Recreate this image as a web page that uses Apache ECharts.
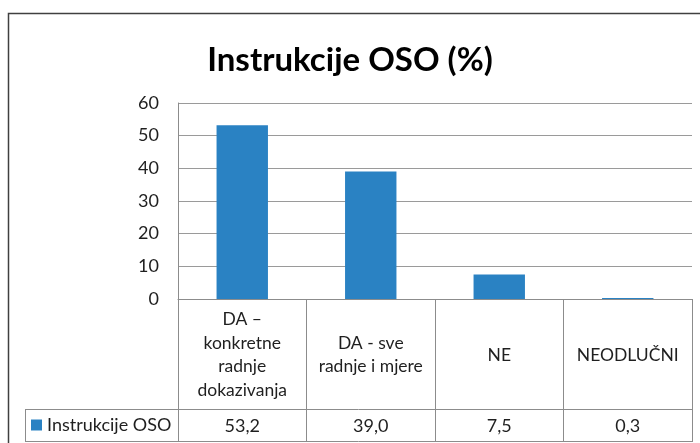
<!DOCTYPE html>
<html>
<head>
<meta charset="utf-8">
<script src="https://cdn.jsdelivr.net/npm/echarts@6/dist/echarts.min.js"></script>
<style>
  html, body { margin: 0; padding: 0; background: #fff; }
  #main { width: 700px; height: 443px; }
</style>
</head>
<body>
<div id="main"></div>
<script>
// chart data
var seriesName = 'Instrukcije OSO';
var categories = ['DA \u2013\nkonkretne\nradnje\ndokazivanja', 'DA - sve\nradnje i mjere', 'NE', 'NEODLU\u010cNI'];
var values = [53.2, 39.0, 7.5, 0.3];
var yTicks = [0, 10, 20, 30, 40, 50, 60];

var chartDom = document.getElementById('main');
var myChart = echarts.init(chartDom);
var font = 'Lato, "Open Sans", sans-serif';
var textColor = '#1f1f1f';
var lineColor = '#8c8c8c';

// data table row shows values with decimal comma
var valueLabels = values.map(function (v) { return v.toFixed(1).replace('.', ','); });

var option = {
    animation: false,
    backgroundColor: '#fff',
    title: {
        text: 'Instrukcije OSO (%)',
        left: 'center',
        top: 39,
        textStyle: { fontFamily: font, fontSize: 33, fontWeight: 'bold', color: '#000' }
    },
    legend: {
        data: [seriesName],
        left: 31,
        top: 416,
        padding: 0,
        icon: 'rect',
        itemWidth: 11,
        itemHeight: 11,
        itemGap: 5,
        textStyle: { fontFamily: font, fontSize: 18, color: textColor }
    },
    grid: { left: 178, right: 8, top: 103, bottom: 144 },
    xAxis: [
        {
            type: 'category',
            data: categories,
            axisLine: { show: true, lineStyle: { color: lineColor } },
            axisTick: { show: true, length: 143, lineStyle: { color: lineColor } },
            axisLabel: {
                interval: 0,
                margin: 56,
                verticalAlign: 'middle',
                lineHeight: 23.5,
                fontFamily: font,
                fontSize: 17.5,
                color: textColor
            }
        },
        {
            type: 'category',
            position: 'bottom',
            data: categories,
            axisLine: { show: false },
            axisTick: { show: false },
            axisLabel: {
                interval: 0,
                margin: 127,
                verticalAlign: 'middle',
                fontFamily: font,
                fontSize: 18,
                color: textColor,
                formatter: function (v, i) { return valueLabels[i]; }
            }
        }
    ],
    yAxis: {
        type: 'value',
        min: yTicks[0],
        max: yTicks[yTicks.length - 1],
        interval: yTicks[1] - yTicks[0],
        axisLine: { show: true, lineStyle: { color: lineColor } },
        axisTick: { show: false },
        axisLabel: { margin: 19, fontFamily: font, fontSize: 18, color: textColor },
        splitLine: { lineStyle: { color: '#9a9a9a' } }
    },
    series: [
        {
            name: seriesName,
            type: 'bar',
            data: values,
            barWidth: '40%',
            itemStyle: { color: '#2A82C3' }
        }
    ],
    graphic: [
        // outer chart frame
        { type: 'rect', shape: { x: 8.5, y: 13.5, width: 800, height: 600 }, style: { fill: 'none', stroke: '#404040', lineWidth: 1.5 }, silent: true },
        // legend row of the data table
        { type: 'line', shape: { x1: 25, y1: 409.5, x2: 692, y2: 409.5 }, style: { stroke: lineColor, lineWidth: 1 }, silent: true },
        { type: 'line', shape: { x1: 25, y1: 441.5, x2: 692, y2: 441.5 }, style: { stroke: lineColor, lineWidth: 1 }, silent: true },
        { type: 'line', shape: { x1: 25.5, y1: 409.5, x2: 25.5, y2: 441.5 }, style: { stroke: lineColor, lineWidth: 1 }, silent: true }
    ]
};

option && myChart.setOption(option);
</script>
</body>
</html>
